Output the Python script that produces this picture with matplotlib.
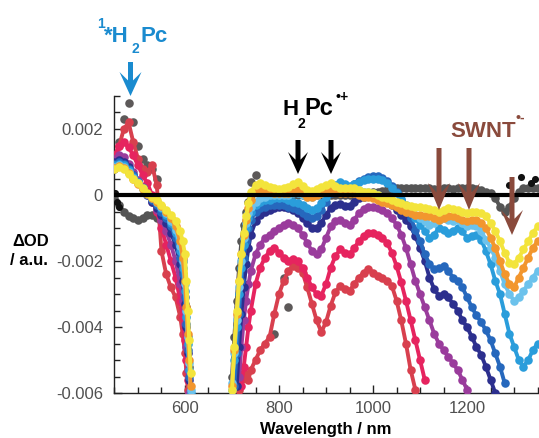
import numpy as np
import matplotlib
matplotlib.use('Agg')
import matplotlib.pyplot as plt
from matplotlib.ticker import MultipleLocator, FixedLocator, FixedFormatter
from matplotlib.patches import Polygon

plt.rcParams['font.family'] = ['Liberation Sans', 'DejaVu Sans']

n = np.nan
# wavelength grids (nm)
VIS_WL = [450, 460, 470, 480, 490, 500, 510, 520, 530, 540, 550, 560, 570, 580,
          590, 595, 600, 603, 606, 609, 612]
NIR_WL = [700, 705, 710, 715, 720, 725, 730, 735, 740] + list(range(750, 1351, 10))

# values in units of 1e-3 (mOD)
GRAY_EARLY_VIS = [0.8, 1.6, 2.3, 2.8, 2.2, 1.5, 1.1, 0.9, 0.8, 0.5, n, n, n, n, n, n, n, n, n, n, n]
GRAY_EARLY_NIR = [n, n, n, n, n, n, n, -1.2, 0.4,
                  0.6, n, n, n, -4.2, n, -2.5, -3.4, n, n] + [n] * 51

RED_VIS = [0.9, 1.5, 2.0, 2.2, 1.6, 1.1, 0.8, 0.7, 0.9, 0.3, -1.7, -2.4, -2.8, -3.1, -3.7, -4.2, -4.8, -5.4, -5.9, n, n]
RED_NIR = [n, n, n, -5.9, -5.6, -5.4, -5.5, -5.6, -5.3,
           -5.0, -4.7, -4.5, -4.3, -3.6, -3.0, -2.6, -2.3, -2.15, -2.2,
           -2.35, -2.8, -3.3, -3.8, -4.15, -3.85, -3.35, -2.95, -2.75, -2.85,
           -2.9, -2.7, -2.5, -2.35, -2.25, -2.35, -2.45, -2.5, -2.6, -2.75,
           -3.2, -3.8, -4.5, -5.3, -5.9, n, n, n, n, n] + [n] * 21

PINK_VIS = [1.2, 1.5, 1.6, 1.45, 1.2, 0.9, 0.6, 0.35, 0.0, -0.5, -1.0, -1.5, -2.0, -2.5, -3.2, -3.7, -4.4, -5.0, -5.6, n, n]
PINK_NIR = [n, n, n, n, -5.8, -5.2, -4.6, -4.0, -3.5,
            -2.7, -2.2, -1.9, -1.7, -1.6, -1.75, -1.9, -2.0, -1.95, -2.0,
            -2.2, -2.5, -2.8, -3.0, -3.05, -2.7, -2.2, -1.85, -1.65, -1.75,
            -1.8, -1.6, -1.4, -1.25, -1.15, -1.15, -1.2, -1.3, -1.45, -1.75,
            -2.15, -2.65, -3.2, -3.8, -4.4, -5.0, -5.6, n, n, n] + [n] * 21

PURPLE_VIS = [1.1, 1.2, 1.15, 0.95, 0.7, 0.45, 0.25, 0.05, -0.2, -0.45, -0.75, -1.1, -1.5, -2.0, -2.7, -3.2, -3.9, -4.6, -5.3, -6.0, n]
PURPLE_NIR = [n, n, n, -5.5, -4.6, -3.8, -3.2, -2.7, -2.3,
              -1.8, -1.5, -1.3, -1.2, -1.1, -1.0, -0.9, -0.85, -0.9, -1.0,
              -1.2, -1.45, -1.7, -1.8, -1.65, -1.3, -0.95, -0.78, -0.75, -0.85,
              -0.9, -0.75, -0.55, -0.42, -0.36, -0.36, -0.4, -0.45, -0.55, -0.7,
              -0.9, -1.2, -1.6, -2.1, -2.6, -3.0, -3.4, -3.8, -4.2, -4.5,
              -4.7, -4.9, -5.1, -5.3, -5.6, -5.9, n, n, n, n] + [n] * 11

NAVY_VIS = [1.0, 1.05, 1.0, 0.85, 0.6, 0.4, 0.2, 0.0, -0.2, -0.4, -0.6, -0.85, -1.15, -1.5, -2.1, -2.6, -3.3, -4.0, -4.8, -5.6, n]
NAVY_NIR = [n, n, -5.8, -4.6, -3.6, -2.8, -2.1, -1.6, -1.2,
            -0.8, -0.6, -0.5, -0.45, -0.4, -0.35, -0.35, -0.4, -0.45, -0.55,
            -0.7, -0.85, -1.0, -1.0, -0.85, -0.6, -0.4, -0.3, -0.28, -0.32,
            -0.33, -0.22, -0.1, -0.05, -0.02, -0.02, -0.05, -0.1, -0.2, -0.3,
            -0.45, -0.6, -0.75, -0.95, -1.25, -1.6, -2.0, -2.5, -2.85, -3.05,
            -3.0, -3.1, -3.3, -3.5, -3.8, -4.0, -4.3, -4.6, -4.85, -5.2,
            -5.6, -6.0, n, n, n, n, n, n, n, n, n]

BLUE_VIS = [0.95, 1.0, 0.95, 0.8, 0.6, 0.4, 0.2, 0.02, -0.15, -0.3, -0.5, -0.7, -0.95, -1.3, -1.9, -2.4, -3.1, -3.9, -4.7, -5.5, n]
BLUE_NIR = [n, -5.8, -4.8, -3.6, -2.6, -1.9, -1.4, -1.0, -0.75,
            -0.5, -0.4, -0.35, -0.3, -0.3, -0.3, -0.3, -0.35, -0.4, -0.45,
            -0.55, -0.65, -0.7, -0.65, -0.45, -0.2, 0.05, 0.22, 0.32, 0.28,
            0.25, 0.32, 0.42, 0.5, 0.55, 0.58, 0.58, 0.52, 0.42, 0.28,
            0.08, -0.15, -0.4, -0.7, -1.05, -1.4, -1.8, -2.1, -2.25, -2.2,
            -2.15, -2.3, -2.5, -2.6, -2.8, -3.1, -3.4, -3.65, -3.85, -4.1,
            -4.4, -4.8, -5.2, -5.7, n, n, n, n, n, n, n]

SKY_VIS = [0.9, 0.95, 0.9, 0.75, 0.55, 0.38, 0.2, 0.03, -0.1, -0.25, -0.4, -0.6, -0.85, -1.15, -1.7, -2.2, -2.9, -3.7, -4.5, -5.3, -6.0]
SKY_NIR = [-5.9, -5.0, -4.0, -3.0, -2.2, -1.5, -1.0, -0.7, -0.5,
           -0.3, -0.2, -0.15, -0.15, -0.1, -0.1, -0.1, -0.15, -0.2, -0.25,
           -0.3, -0.4, -0.45, -0.4, -0.25, -0.05, 0.15, 0.3, 0.38, 0.32,
           0.28, 0.32, 0.4, 0.46, 0.5, 0.5, 0.5, 0.45, 0.36, 0.22,
           0.05, -0.12, -0.3, -0.5, -0.7, -0.9, -1.1, -1.3, -1.2, -1.0,
           -1.05, -1.15, -1.1, -1.0, -1.1, -1.3, -1.25, -1.2, -1.35, -1.7,
           -2.1, -2.6, -3.0, -3.6, -4.2, -4.6, -5.0, -5.2, -5.0, -4.7,
           -4.5]

LIGHT_VIS = [0.85, 0.9, 0.85, 0.7, 0.52, 0.35, 0.18, 0.02, -0.1, -0.22, -0.37, -0.55, -0.78, -1.05, -1.55, -2.0, -2.7, -3.5, -4.3, -5.1, -5.9]
LIGHT_NIR = [-5.7, -4.8, -3.8, -2.8, -2.0, -1.3, -0.85, -0.55, -0.35,
             -0.2, -0.1, -0.05, 0.0, 0.0, 0.0, 0.0, 0.0, 0.05, 0.05,
             0.0, -0.05, -0.05, 0.0, 0.05, 0.1, 0.15, 0.15, 0.15, 0.15,
             0.15, 0.15, 0.15, 0.1, 0.1, 0.05, 0.0, -0.05, -0.1, -0.2,
             -0.25, -0.3, -0.4, -0.5, -0.6, -0.7, -0.8, -0.9, -0.85, -0.75,
             -0.7, -0.75, -0.8, -0.75, -0.85, -0.95, -0.9, -0.95, -1.1, -1.35,
             -1.6, -1.9, -2.3, -2.7, -3.0, -3.2, -3.1, -2.9, -2.7, -2.5,
             -2.3]

ORANGE_VIS = [0.82, 0.87, 0.82, 0.67, 0.5, 0.34, 0.18, 0.03, -0.08, -0.2, -0.34, -0.5, -0.7, -0.95, -1.4, -1.9, -2.6, -3.4, -4.2, -5.0, -5.8]
ORANGE_NIR = [-5.8, -4.7, -3.6, -2.6, -1.8, -1.2, -0.75, -0.4, -0.15,
              0.1, 0.15, 0.12, 0.1, 0.05, 0.05, 0.05, 0.05, 0.1, 0.15,
              0.05, -0.05, -0.05, 0.0, 0.05, 0.1, 0.15, 0.1, 0.05, 0.05,
              0.05, 0.05, 0.0, -0.05, -0.05, -0.1, -0.15, -0.2, -0.25, -0.3,
              -0.35, -0.45, -0.5, -0.55, -0.6, -0.6, -0.65, -0.65, -0.7, -0.75,
              -0.7, -0.65, -0.65, -0.7, -0.75, -0.8, -0.75, -0.75, -0.85, -1.0,
              -1.3, -1.6, -2.0, -2.4, -2.7, -2.8, -2.5, -2.2, -1.9, -1.6,
              -1.4]

YELLOW_VIS = [0.8, 0.85, 0.8, 0.65, 0.5, 0.35, 0.2, 0.05, -0.05, -0.15, -0.3, -0.45, -0.6, -0.8, -1.1, -1.4, -1.8, -2.6, -3.5, -4.4, -5.4]
YELLOW_NIR = [-5.9, -4.6, -3.5, -2.6, -1.8, -1.15, -0.65, -0.25, 0.1,
              0.3, 0.35, 0.3, 0.25, 0.2, 0.18, 0.2, 0.25, 0.32, 0.38,
              0.28, 0.15, 0.12, 0.18, 0.25, 0.3, 0.35, 0.28, 0.22, 0.2,
              0.2, 0.2, 0.15, 0.1, 0.08, 0.05, 0.0, -0.05, -0.1, -0.15,
              -0.2, -0.25, -0.3, -0.32, -0.35, -0.35, -0.4, -0.42, -0.45, -0.5,
              -0.45, -0.4, -0.42, -0.45, -0.5, -0.55, -0.5, -0.5, -0.55, -0.65,
              -0.85, -1.1, -1.4, -1.75, -2.05, -2.1, -1.9, -1.65, -1.4, -1.15,
              -0.95]

GRAY_LATE_VIS = [-0.1, -0.3, -0.5, -0.65, -0.7, -0.75, -0.7, -0.6, -0.6, -0.7, -0.8, -0.9, -1.05, -1.25, -1.6, -2.0, -2.6, -3.4, -4.3, -5.2, n]
GRAY_LATE_NIR = [-5.5, -4.3, -3.2, -2.2, -1.4, -0.9, -0.5, -0.2, 0.0,
                 0.1, 0.05, 0.0, 0.0, 0.0, 0.0, 0.0, 0.0, 0.0, 0.0,
                 0.0, 0.0, 0.0, 0.0, 0.0, 0.0, 0.0, 0.0, 0.0, 0.0,
                 0.0, 0.0, 0.0, 0.0, 0.05, 0.08, 0.1, 0.12, 0.15, 0.18,
                 0.2, 0.2, 0.22, 0.22, 0.2, 0.2, 0.22, 0.2, 0.18, 0.18,
                 0.2, 0.2, 0.18, 0.2, 0.22, 0.2, 0.2, 0.18, 0.15, 0.1,
                 0.05, -0.1, -0.35, -0.5, -0.35, -0.1, 0.1, 0.2, 0.2, 0.2,
                 0.2]

BLACK_WL = [452, 456, 460, 1290, 1315, 1335, 1345]
BLACK_VAL = [0.05, -0.2, -0.35, 0.3, 0.55, 0.35, 0.5]

# (colour, visible values, NIR values, draw connecting line)
SERIES = [
    ('#5d5959', GRAY_EARLY_VIS, GRAY_EARLY_NIR, False),
    ('#555555', GRAY_LATE_VIS, GRAY_LATE_NIR, True),
    ('#d8404e', RED_VIS, RED_NIR, True),
    ('#e6245f', PINK_VIS, PINK_NIR, True),
    ('#9a3c9c', PURPLE_VIS, PURPLE_NIR, True),
    ('#2c2f8e', NAVY_VIS, NAVY_NIR, True),
    ('#2668bd', BLUE_VIS, BLUE_NIR, True),
    ('#2a9ddb', SKY_VIS, SKY_NIR, True),
    ('#6cc2ec', LIGHT_VIS, LIGHT_NIR, True),
    ('#f2962e', ORANGE_VIS, ORANGE_NIR, True),
    ('#f3e43c', YELLOW_VIS, YELLOW_NIR, True),
]

W, H = 539, 438
fig = plt.figure(figsize=(W / 100, H / 100), dpi=100)
fig.patch.set_facecolor('white')
ax = fig.add_axes([114 / W, 1 - 393 / H, (W - 114) / W, (393 - 96) / H])

for k, (col, vis, nir, line) in enumerate(SERIES):
    for wl, vals in ((VIS_WL, vis), (NIR_WL, nir)):
        assert len(wl) == len(vals), (col, len(wl), len(vals))
        y = np.array(vals, dtype=float) * 1e-3
        if line:
            ax.plot(wl, y, '-', color=col, lw=2.8, zorder=2 + k)
        ax.scatter(wl, y, s=38, color=col, linewidths=0, zorder=2 + k)

ax.scatter(BLACK_WL, np.array(BLACK_VAL) * 1e-3, s=26, color='#111111', linewidths=0, zorder=15)

ax.axhline(0, color='black', lw=3.0, zorder=30)

ax.set_xlim(449, 1353)
ax.set_ylim(-0.006, 0.003)

for s in ('top', 'right'):
    ax.spines[s].set_visible(False)
for s in ('left', 'bottom'):
    ax.spines[s].set_linewidth(1.0)
    ax.spines[s].set_color('#222222')

ax.xaxis.set_major_locator(FixedLocator([600, 800, 1000, 1200]))
ax.xaxis.set_major_formatter(FixedFormatter(['600', '800', '1000', '1200']))
ax.xaxis.set_minor_locator(MultipleLocator(50))
yt = [-0.006, -0.004, -0.002, 0, 0.002]
ax.yaxis.set_major_locator(FixedLocator(yt))
ax.yaxis.set_major_formatter(FixedFormatter(['-0.006', '-0.004', '-0.002', '0', '0.002']))
ax.yaxis.set_minor_locator(MultipleLocator(0.0005))
ax.tick_params(which='both', direction='in', color='#222222', width=1.0,
               labelsize=12, labelcolor='#505050')
ax.tick_params(which='major', length=6)
ax.tick_params(which='minor', length=4)
ax.tick_params(axis='x', pad=6)
ax.tick_params(axis='y', pad=8)


def fx(x):
    return x / W


def fy(y):
    return 1 - y / H


def txt(x, y, s, size, color, ha='left'):
    fig.text(fx(x), fy(y), s, fontsize=size, fontweight='bold', color=color,
             ha=ha, va='baseline')


def arrow(xc, y0, y1, shaft_w, head_w, head_len, color):
    hw = shaft_w / 2
    hh = head_w / 2
    base = y1 - head_len
    notch = y1 - head_len * 0.65
    pts = [(xc - hw, y0), (xc - hw, notch), (xc - hh, base), (xc, y1),
           (xc + hh, base), (xc + hw, notch), (xc + hw, y0)]
    poly = Polygon([(fx(a), fy(b)) for a, b in pts], closed=True,
                   transform=fig.transFigure, facecolor=color, edgecolor='none')
    fig.patches.append(poly)


BLUE = '#1a8bcf'
BROWN = '#8a4a3c'

# 1*H2Pc label
txt(97, 28, '1', 10, BLUE)
txt(104, 42, '*H', 16, BLUE)
txt(132, 53, '2', 10, BLUE)
txt(140, 42, 'Pc', 16, BLUE)
arrow(130.5, 62, 96, 5, 22, 24, BLUE)

# H2Pc.+ label
txt(283, 115, 'H', 16, 'black')
txt(298, 128, '2', 10, 'black')
txt(304, 115, 'Pc', 17, 'black')
txt(336, 101, '\u2022+', 10, 'black')
arrow(298, 140, 174, 5, 20, 22, 'black')
arrow(331, 140, 174, 5, 20, 22, 'black')

# SWNT.- label
txt(450, 137, 'SWNT', 16, BROWN)
txt(516, 122, '\u2022-', 10, BROWN)
arrow(439, 148, 210, 5, 22, 27, BROWN)
arrow(469, 148, 210, 5, 22, 27, BROWN)
arrow(512, 177, 235, 5, 22, 25, BROWN)

# axis labels
txt(12, 246, '\u0394OD', 12, 'black')
txt(10, 265, '/ a.u.', 12, 'black')
txt(326, 434, 'Wavelength / nm', 12, 'black', ha='center')

fig.savefig('out.png', dpi=100)
